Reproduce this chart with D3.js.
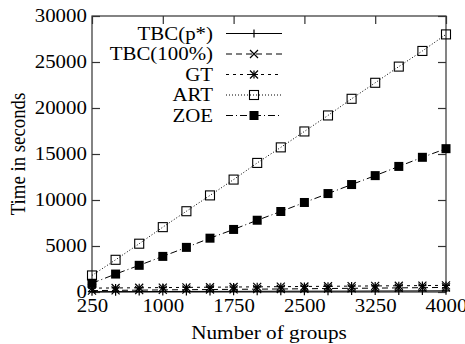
<!DOCTYPE html>
<html>
<head>
<meta charset="utf-8">
<script src="https://cdn.jsdelivr.net/npm/d3@7"></script>
<style>
  body { margin: 0; background: #fff; }
  svg { display: block; }
  svg text { font-family: "Liberation Serif", "Times New Roman", "DejaVu Serif", serif !important; fill: #000; }
</style>
</head>
<body>
<svg id="chart" width="465" height="344"></svg>
<script>
const groups = [250, 500, 750, 1000, 1250, 1500, 1750, 2000, 2250, 2500, 2750, 3000, 3250, 3500, 3750, 4000];
const tbcP = [30, 40, 45, 55, 60, 65, 70, 75, 85, 90, 95, 100, 110, 115, 120, 130];
const tbc100 = [150, 180, 200, 230, 250, 270, 290, 310, 330, 350, 380, 400, 420, 450, 470, 500];
const gt = [420, 440, 460, 480, 500, 520, 540, 560, 580, 600, 620, 640, 660, 680, 700, 720];
const art = [1800, 3500, 5250, 7050, 8780, 10500, 12220, 14030, 15720, 17450, 19190, 21000, 22740, 24500, 26200, 28000];
const zoe = [950, 1950, 2900, 3870, 4850, 5850, 6800, 7800, 8750, 9730, 10700, 11680, 12650, 13650, 14640, 15580];
const xTicks = [250, 1000, 1750, 2500, 3250, 4000];
const yTicks = [0, 5000, 10000, 15000, 20000, 25000, 30000];

const series = [
  { name: "TBC(p*)", values: tbcP, dash: null, marker: "plus" },
  { name: "TBC(100%)", values: tbc100, dash: "6,4", marker: "cross" },
  { name: "GT", values: gt, dash: "3,4", marker: "star" },
  { name: "ART", values: art, dash: "1,2", marker: "open" },
  { name: "ZOE", values: zoe, dash: "7,3,1,3", marker: "filled" }
];

const margin = { top: 16, right: 19, bottom: 52, left: 92 };
const width = 465, height = 344;
const serif = "'Liberation Serif', 'Times New Roman', serif";
const fontSize = 18.5;
const stretch = 1.13; // glyphs in the reference are a bit wide
const svg = d3.select("#chart");

const x = d3.scaleLinear().domain([250, 4000]).range([margin.left, width - margin.right]);
const y = d3.scaleLinear().domain([0, 30000]).range([height - margin.bottom, margin.top]);

const frameColor = "#333";
const tickLen = 8;

// frame
svg.append("rect")
  .attr("x", x(250)).attr("y", y(30000))
  .attr("width", x(4000) - x(250)).attr("height", y(0) - y(30000))
  .attr("fill", "none").attr("stroke", frameColor).attr("stroke-width", 1.2);

// axes (ticks inward, mirrored)
const xAxisB = d3.axisBottom(x).tickValues(xTicks).tickSize(-tickLen).tickPadding(7).tickFormat(d3.format("d"));
const xAxisT = d3.axisTop(x).tickValues(xTicks).tickSize(-tickLen).tickFormat("");
const yAxisL = d3.axisLeft(y).tickValues(yTicks).tickSize(-tickLen).tickPadding(4.5).tickFormat(d3.format("d"));
const yAxisR = d3.axisRight(y).tickValues(yTicks).tickSize(-tickLen).tickFormat("");

function style(g) {
  g.attr("font-family", serif).attr("font-size", fontSize);
  g.select(".domain").remove();
  g.selectAll(".tick line").attr("stroke", frameColor).attr("stroke-width", 1.2);
  g.selectAll(".tick text").attr("fill", "#000").attr("transform", `scale(${stretch},1)`);
}
svg.append("g").attr("transform", `translate(0,${y(0)})`).call(xAxisB).call(style);
svg.append("g").attr("transform", `translate(0,${y(30000)})`).call(xAxisT).call(style);
svg.append("g").attr("transform", `translate(${x(250)},0)`).call(yAxisL).call(style);
svg.append("g").attr("transform", `translate(${x(4000)},0)`).call(yAxisR).call(style);

// axis titles
svg.append("text")
  .attr("transform", `translate(${(x(250) + x(4000)) / 2},339) scale(${stretch},1)`)
  .attr("text-anchor", "middle").attr("font-size", fontSize + 0.3).attr("font-family", serif)
  .text("Number of groups");
svg.append("text")
  .attr("transform", `translate(25,${(y(0) + y(30000)) / 2}) scale(${stretch},1) rotate(-90)`)
  .attr("text-anchor", "middle").attr("font-size", fontSize + 0.3).attr("font-family", serif)
  .text("Time in seconds");

function drawMarker(g, type, cx, cy) {
  const s = 4;
  if (type === "plus" || type === "star") {
    g.append("path").attr("d", `M${cx - s},${cy}H${cx + s}M${cx},${cy - s}V${cy + s}`)
      .attr("stroke", "#000").attr("stroke-width", 1.2);
  }
  if (type === "cross" || type === "star") {
    g.append("path").attr("d", `M${cx - s},${cy - s}L${cx + s},${cy + s}M${cx - s},${cy + s}L${cx + s},${cy - s}`)
      .attr("stroke", "#000").attr("stroke-width", 1.2);
  }
  if (type === "open") {
    g.append("rect").attr("x", cx - 4.5).attr("y", cy - 4.5).attr("width", 9).attr("height", 9)
      .attr("fill", "none").attr("stroke", "#000").attr("stroke-width", 1.1);
  }
  if (type === "filled") {
    g.append("rect").attr("x", cx - 4.5).attr("y", cy - 4.5).attr("width", 9).attr("height", 9)
      .attr("fill", "#000");
  }
}

const line = d3.line().x(d => x(d[0])).y(d => y(d[1]));

series.forEach(s => {
  const pts = groups.map((g, i) => [g, s.values[i]]);
  const g = svg.append("g");
  g.append("path")
    .attr("d", line(pts))
    .attr("fill", "none").attr("stroke", "#000").attr("stroke-width", 1)
    .attr("stroke-dasharray", s.dash);
  pts.forEach(p => drawMarker(g, s.marker, x(p[0]), y(p[1])));
});

// legend
const legendX = 213, lineX0 = 226, lineX1 = 282, legendY0 = 33.5, legendStep = 20.5;
series.forEach((s, i) => {
  const ly = legendY0 + i * legendStep;
  const g = svg.append("g");
  g.append("text")
    .attr("transform", `translate(${legendX},${ly}) scale(${stretch},1)`)
    .attr("dy", "0.35em")
    .attr("text-anchor", "end").attr("font-size", fontSize).attr("font-family", serif)
    .text(s.name);
  g.append("line")
    .attr("x1", lineX0).attr("x2", lineX1).attr("y1", ly).attr("y2", ly)
    .attr("stroke", "#000").attr("stroke-width", 1)
    .attr("stroke-dasharray", s.dash);
  drawMarker(g, s.marker, (lineX0 + lineX1) / 2, ly);
});
</script>
</body>
</html>
